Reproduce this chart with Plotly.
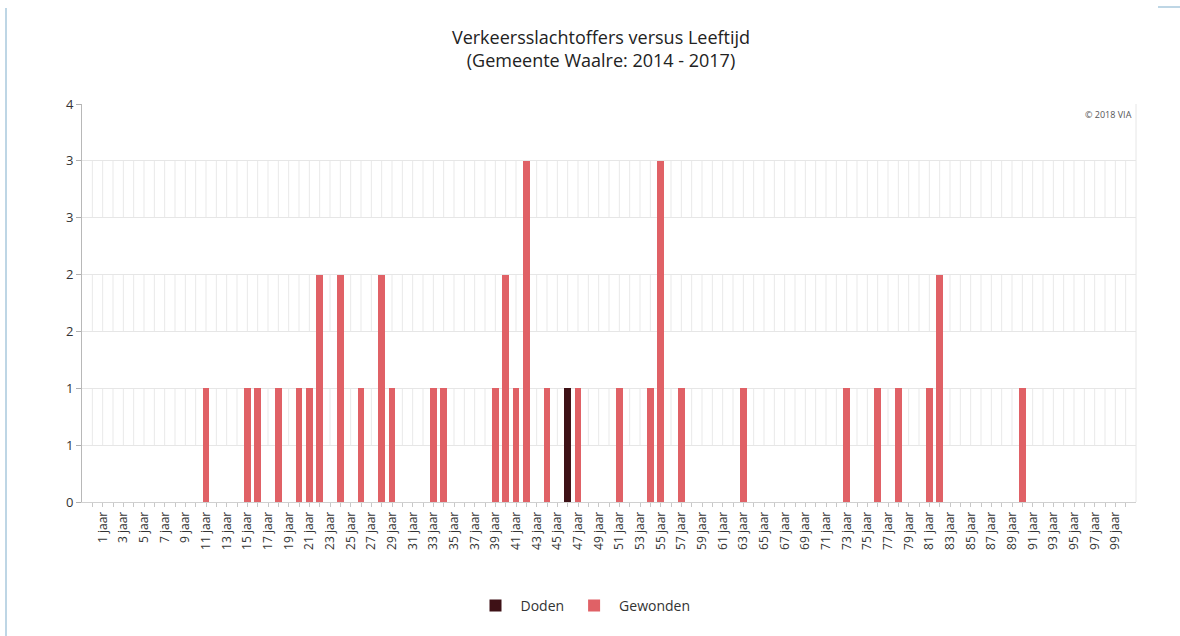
import plotly.graph_objects as go

# ---- data ----
ages = list(range(0, 101))
gewonden_ages = [11, 15, 16, 18, 20, 21, 22, 24, 26, 28, 29, 33, 34, 39, 40, 41, 42,
                 44, 47, 51, 54, 55, 57, 63, 73, 76, 78, 81, 82, 90]
gewonden_vals = [1, 1, 1, 1, 1, 1, 2, 2, 1, 2, 1, 1, 1, 1, 2, 1, 3,
                 1, 1, 1, 1, 3, 1, 1, 1, 1, 1, 1, 2, 1]
doden_ages = [46]
doden_vals = [1]

y_tickvals = [0, 0.5, 1, 1.5, 2, 2.5, 3, 3.5]
y_ticktext = ["0", "1", "1", "2", "2", "3", "3", "4"]
x_ticktext = [f"{a} jaar" if a % 2 == 1 else "" for a in ages]

doden = dict(zip(doden_ages, doden_vals))
gewonden = dict(zip(gewonden_ages, gewonden_vals))

FONT = "Open Sans"
L, R, T, B = 82, 44, 104, 134
W, H = 1180, 636
PW, PH = W - L - R, H - T - B

fig = go.Figure()
fig.add_trace(go.Bar(
    x=ages, y=[doden.get(a, 0) for a in ages], name="Doden",
    marker=dict(color="#3e1116", line=dict(width=0)), width=0.62))
fig.add_trace(go.Bar(
    x=ages, y=[gewonden.get(a, 0) for a in ages], name="Gewonden",
    marker=dict(color="#e06166", line=dict(width=0)), width=0.62))

# vertical grid segments in alternating bands
shapes = []
for lo, hi in [(0.5, 1.0), (1.5, 2.0), (2.5, 3.0)]:
    path = " ".join(f"M {a},{lo} L {a},{hi}" for a in ages)
    shapes.append(dict(type="path", path=path, xref="x", yref="y",
                       line=dict(color="#e9e9e9", width=1), layer="below"))
# right border of plot area
shapes.append(dict(type="line", xref="paper", yref="paper", x0=1, x1=1, y0=0, y1=1,
                   line=dict(color="#e6e6e6", width=1), layer="below"))
# outer container borders
shapes.append(dict(type="line", xref="paper", yref="paper",
                   x0=(6 - L) / PW, x1=(6 - L) / PW,
                   y0=(H - B - 8) / PH, y1=(H - B - 640) / PH,
                   line=dict(color="#a9c8dc", width=1.5)))
shapes.append(dict(type="line", xref="paper", yref="paper",
                   x0=(1158 - L) / PW, x1=(1182 - L) / PW,
                   y0=(H - B - 7) / PH, y1=(H - B - 7) / PH,
                   line=dict(color="#a9c8dc", width=1.5)))

fig.update_layout(
    width=W, height=H,
    margin=dict(l=L, r=R, t=T, b=B),
    paper_bgcolor="white", plot_bgcolor="white",
    font=dict(family=FONT, color="#333333"),
    barmode="stack", bargap=0,
    title=dict(text="Verkeersslachtoffers versus Leeftijd<br>(Gemeente Waalre: 2014 - 2017)",
               x=(601 - L) / PW, xref="paper", xanchor="center",
               y=1 - 44 / H, yref="container", yanchor="top",
               pad=dict(t=0),
               font=dict(family=FONT, size=18, color="#222222")),
    showlegend=True,
    legend=dict(orientation="h", x=(583 - L) / PW, xanchor="center",
                y=(H - B - 606) / PH, yanchor="middle",
                font=dict(family=FONT, size=14, color="#333333"),
                itemwidth=40, traceorder="normal"),
    shapes=shapes,
    annotations=[dict(text="© 2018 VIA", xref="paper", yref="paper", x=0.998, y=0.995,
                      xanchor="right", yanchor="top", showarrow=False,
                      font=dict(family=FONT, size=9, color="#555555"))],
    xaxis=dict(range=[-1, 101], tickmode="array", tickvals=ages, ticktext=x_ticktext,
               tickangle=-90, ticks="outside", ticklen=4, tickcolor="#c8c8c8",
               tickfont=dict(family=FONT, size=12, color="#333333"),
               showgrid=False, zeroline=False, showline=True, linecolor="#d0d0d0",
               fixedrange=True),
    yaxis=dict(range=[0, 3.5], tickmode="array", tickvals=y_tickvals, ticktext=y_ticktext,
               ticks="outside", ticklen=5, tickcolor="#b0b0b0",
               tickfont=dict(family=FONT, size=13, color="#333333"),
               showgrid=True, gridcolor="#e6e6e6", gridwidth=1,
               zeroline=False, showline=True, linecolor="#b8b8b8",
               fixedrange=True),
)

fig.write_html("out.html", config={"displayModeBar": False},
               post_script="document.body.style.margin='0';document.body.style.overflow='hidden';")
